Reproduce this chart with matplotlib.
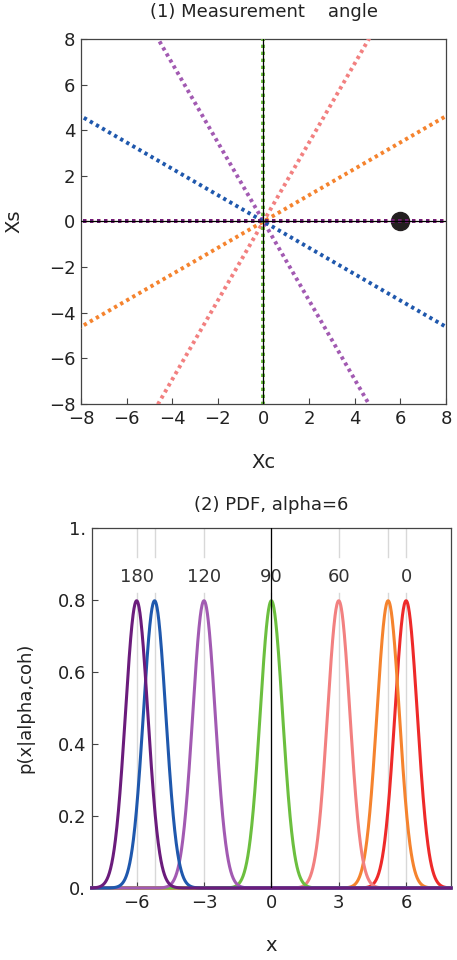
import numpy as np
import matplotlib
matplotlib.use("Agg")
import matplotlib.pyplot as plt

plt.rcParams['font.family'] = ['DejaVu Sans']

# measurement angles (degrees) and their colours
angles = [0, 30, 60, 90, 120, 150, 180]
colors = ['#ee2a2a', '#f5832e', '#f28080', '#6cbf3f', '#a25ab2', '#1f58ad', '#6b1c7c']
# peak centres (2)
centers = [6.0, 5.2, 3.0, 0.0, -3.0, -5.2, -6.0]
peak_labels = ['0', '', '60', '90', '120', '', '180']
sigma = 0.5
alpha_pt = (6, 0)

xticks_top = [-8, -6, -4, -2, 0, 2, 4, 6, 8]
xticks_bot = [-6, -3, 0, 3, 6]
yticks_bot = [0, 0.2, 0.4, 0.6, 0.8, 1.0]
yticklabels_bot = ['0.', '0.2', '0.4', '0.6', '0.8', '1.']

fig = plt.figure(figsize=(4.57, 9.6), dpi=100)
frame_col = '#444444'

def style(ax):
    for s in ax.spines.values():
        s.set_color(frame_col)
        s.set_linewidth(0.9)
    ax.tick_params(direction='in', length=4, width=0.8, color=frame_col,
                   labelsize=13, labelcolor='#222222', pad=4, top=False, right=False)

def minus(vals):
    return [str(v).replace('-', '\u2212') for v in vals]

# ---- panel 1
ax1 = fig.add_axes([0.1772, 0.5792, 0.7987, 0.3802])
style(ax1)
ax1.plot([alpha_pt[0]], [alpha_pt[1]], 'o', color='#231f20', ms=13, zorder=2)
r = 20
for a, c in zip(angles, colors):
    t = np.deg2rad(a)
    xs = [-r * np.cos(t), r * np.cos(t)]
    ys = [-r * np.sin(t), r * np.sin(t)]
    if xs[0] > xs[1] + 1e-9:
        xs, ys = xs[::-1], ys[::-1]
    ax1.plot(xs, ys, color=c, lw=2.8, dashes=(0.85, 0.95), solid_capstyle='butt',
             dash_capstyle='butt', zorder=3)
ax1.axhline(0, color='black', lw=0.9, zorder=4)
ax1.axvline(0, color='black', lw=0.9, zorder=4)
ax1.set_xlim(-8, 8)
ax1.set_ylim(-8, 8)
ax1.set_xticks(xticks_top)
ax1.set_yticks(xticks_top)
ax1.set_xticklabels(minus(xticks_top))
ax1.set_yticklabels(minus(xticks_top))
fig.text(0.577, 0.9875, '(1) Measurement    angle', ha='center', va='center',
         fontsize=13, color='#222222')
fig.text(0.577, 0.518, 'Xc', ha='center', va='center', fontsize=14, color='#222222')
fig.text(0.031, 0.77, 'Xs', ha='center', va='center', fontsize=14, rotation=90,
         color='#222222')

# ---- panel 2
ax2 = fig.add_axes([0.2007, 0.075, 0.7862, 0.375])
style(ax2)
x = np.linspace(-8, 8, 1200)
gap_lo, gap_hi = 0.82, 0.92
for cx, lab in zip(centers, peak_labels):
    ax2.axvline(cx, ymin=0, ymax=gap_lo, color='#d8d8d8', lw=1, zorder=1)
    ax2.axvline(cx, ymin=gap_hi, ymax=1, color='#d8d8d8', lw=1, zorder=1)
    if lab:
        ax2.text(cx, 0.864, lab, ha='center', va='center', fontsize=13,
                 color='#333333', zorder=2)
ax2.axvline(0, color='black', lw=0.9, zorder=5)
for cx, c in zip(centers, colors):
    y = np.exp(-0.5 * ((x - cx) / sigma) ** 2) / (sigma * np.sqrt(2 * np.pi))
    ax2.plot(x, y, color=c, lw=2.2, zorder=3, clip_on=False)
ax2.set_xlim(-8, 8)
ax2.set_ylim(0, 1)
ax2.set_xticks(xticks_bot)
ax2.set_xticklabels(minus(xticks_bot))
ax2.set_yticks(yticks_bot)
ax2.set_yticklabels(yticklabels_bot)
fig.text(0.593, 0.474, '(2) PDF, alpha=6', ha='center', va='center', fontsize=13,
         color='#222222')
fig.text(0.593, 0.015, 'x', ha='center', va='center', fontsize=14, color='#222222')
fig.text(0.055, 0.2625, 'p(x|alpha,coh)', ha='center', va='center', fontsize=13,
         rotation=90, color='#222222')

fig.savefig('out.png', dpi=100)
